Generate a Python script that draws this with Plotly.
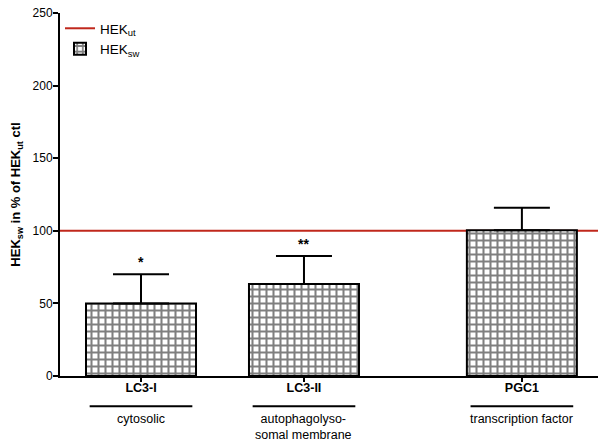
import plotly.graph_objects as go

categories = ["LC3-I", "LC3-II", "PGC1"]
groups = ["cytosolic", "autophagolyso-<br>somal membrane", "transcription factor"]
values = [50, 63.4, 100.3]
errors_up = [20, 19.2, 15.6]
stars = ["*", "**", ""]
ut_level = 100
y_ticks = [0, 50, 100, 150, 200, 250]

# layout positions (axis units)
xpos = [1.0, 2.0, 3.337]
FONT = "Liberation Sans, Arial, sans-serif"

fig = go.Figure()
fig.add_trace(go.Bar(
    x=xpos, y=values, width=0.675,
    name="HEK<sub>sw</sub>",
    marker=dict(color="white", line=dict(color="black", width=2),
                pattern=dict(shape="+", fgcolor="black", bgcolor="white", size=7, solidity=0.5)),
    error_y=dict(type="data", array=errors_up, arrayminus=[0]*len(values), symmetric=False,
                 color="black", thickness=2, width=28),
    legendrank=2,
))

fig.add_shape(type="line", xref="paper", x0=0, x1=1, yref="y", y0=ut_level, y1=ut_level,
              line=dict(color="#c0281c", width=2), showlegend=True, name="HEK<sub>ut</sub>",
              legendrank=1, layer="below")

for x, v, e, s in zip(xpos, values, errors_up, stars):
    if s:
        fig.add_annotation(x=x, y=v + e, text=f"<b>{s}</b>", showarrow=False,
                           yanchor="bottom", yshift=2, font=dict(size=14, color="black", family=FONT))

for x, g in zip(xpos, groups):
    fig.add_shape(type="line", xref="x", yref="paper", x0=x - 0.315, x1=x + 0.315,
                  y0=-0.083, y1=-0.083, line=dict(color="black", width=2))
    fig.add_annotation(x=x, xref="x", yref="paper", y=-0.094, text=g, showarrow=False,
                       yanchor="top", font=dict(size=12.5, color="black", family=FONT))

fig.update_layout(
    width=598, height=446,
    margin=dict(l=60, r=0, t=13, b=70),
    paper_bgcolor="white", plot_bgcolor="white",
    font=dict(family=FONT, color="black"),
    showlegend=True,
    legend=dict(x=0.0, y=1.0, xanchor="left", yanchor="top", bgcolor="rgba(0,0,0,0)",
                font=dict(size=13.5, color="black"), itemwidth=30),
    xaxis=dict(range=[xpos[0] - 0.497, xpos[0] + 2.804], showline=True, linecolor="black", linewidth=2,
               showgrid=False, zeroline=False,
               tickvals=xpos, ticktext=[f"<b>{c}</b>" for c in categories],
               ticks="outside", ticklen=4, tickwidth=1.5, tickcolor="black", ticklabelstandoff=-5,
               tickfont=dict(size=12.5, color="black", family=FONT)),
    yaxis=dict(range=[0, 250], showline=True, linecolor="black", linewidth=2,
               showgrid=False, zeroline=False, tickvals=y_ticks,
               ticks="outside", ticklen=5, tickwidth=1.5, tickcolor="black", ticklabelstandoff=-2,
               tickfont=dict(size=12, color="black", family=FONT),
               title=dict(text="<b>HEK<sub>sw</sub> in % of HEK<sub>ut</sub> ctl</b>",
                          font=dict(size=13, color="black", family=FONT), standoff=9)),
)

fig.write_html("out.html", config={"displayModeBar": False},
               post_script="document.body.style.margin='0';")
